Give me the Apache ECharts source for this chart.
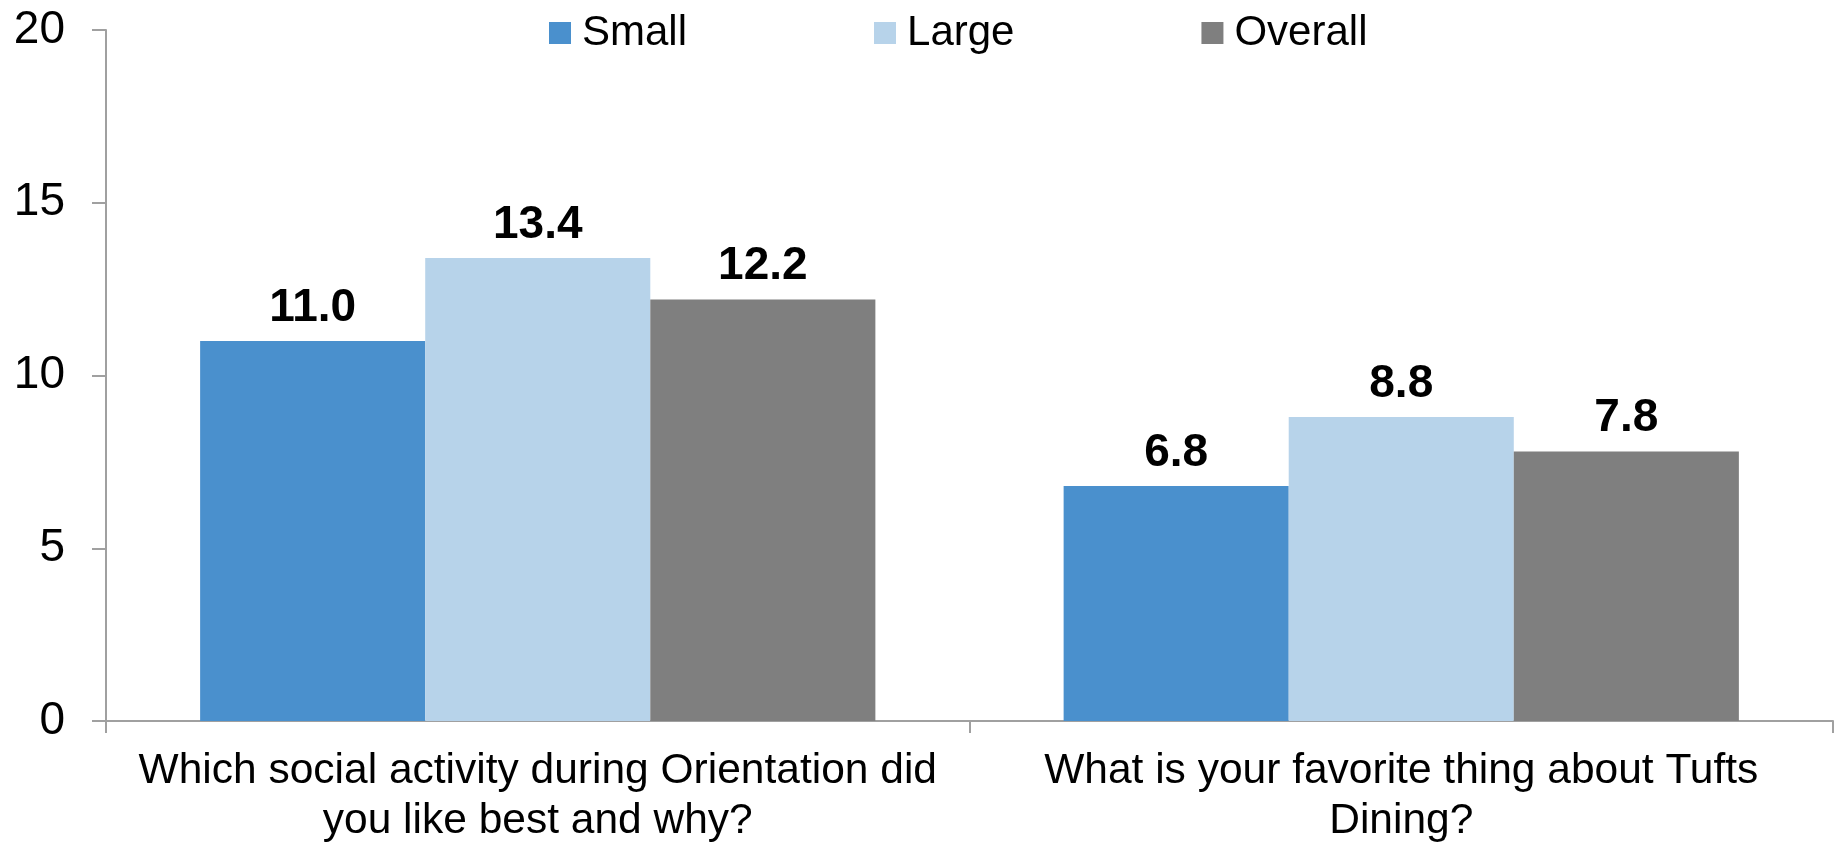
<!DOCTYPE html>
<html>
<head>
<meta charset="utf-8">
<script src="https://cdn.jsdelivr.net/npm/echarts@6/dist/echarts.min.js"></script>
<style>
html,body{margin:0;padding:0;background:#fff;}
#c{width:1839px;height:842px;}
</style>
</head>
<body>
<div id="c"></div>
<script>
const categories = [
  "Which social activity during Orientation did\nyou like best and why?",
  "What is your favorite thing about Tufts\nDining?"
];
const seriesNames = ["Small", "Large", "Overall"];
const smallValues = [11.0, 6.8];
const largeValues = [13.4, 8.8];
const overallValues = [12.2, 7.8];
const yTicks = [0, 5, 10, 15, 20];

const FONT = "'Liberation Sans', Arial, sans-serif";
const colors = ["#4A90CD", "#B7D3EA", "#7F7F7F"];
const valueSets = [smallValues, largeValues, overallValues];

const chart = echarts.init(document.getElementById('c'), null, {renderer: 'canvas'});
chart.setOption({
  animation: false,
  backgroundColor: '#ffffff',
  color: colors,
  textStyle: {fontFamily: FONT},
  legend: {
    data: seriesNames,
    left: 549,
    top: 12,
    padding: 0,
    itemWidth: 22,
    itemHeight: 22,
    itemGap: 187,
    icon: 'rect',
    textStyle: {fontFamily: FONT, fontSize: 42, color: '#000', padding: [0, 0, 0, 6]}
  },
  grid: {left: 106, right: 6, top: 30, bottom: 121, containLabel: false, outerBoundsMode: 'none'},
  xAxis: {
    type: 'category',
    data: categories,
    axisLine: {lineStyle: {color: '#A0A0A0', width: 2}},
    axisTick: {show: true, length: 12, lineStyle: {color: '#A0A0A0', width: 2}},
    axisLabel: {fontFamily: FONT, fontSize: 42.5, color: '#000', margin: 25, lineHeight: 50, interval: 0}
  },
  yAxis: {
    type: 'value',
    min: yTicks[0],
    max: yTicks[yTicks.length - 1],
    interval: yTicks[1] - yTicks[0],
    splitLine: {show: false},
    axisLine: {show: true, lineStyle: {color: '#A0A0A0', width: 2}},
    axisTick: {show: true, length: 14, lineStyle: {color: '#A0A0A0', width: 2}},
    axisLabel: {fontFamily: FONT, fontSize: 46, color: '#000', margin: 41}
  },
  series: seriesNames.map((name, i) => ({
    name: name,
    type: 'bar',
    data: valueSets[i],
    barGap: '0%',
    barCategoryGap: '21.8%',
    itemStyle: {color: colors[i]},
    label: {
      show: true,
      position: 'top',
      distance: 10,
      fontFamily: FONT,
      fontSize: 46,
      fontWeight: 'bold',
      color: '#000',
      formatter: p => p.value.toFixed(1)
    }
  }))
});
</script>
</body>
</html>
